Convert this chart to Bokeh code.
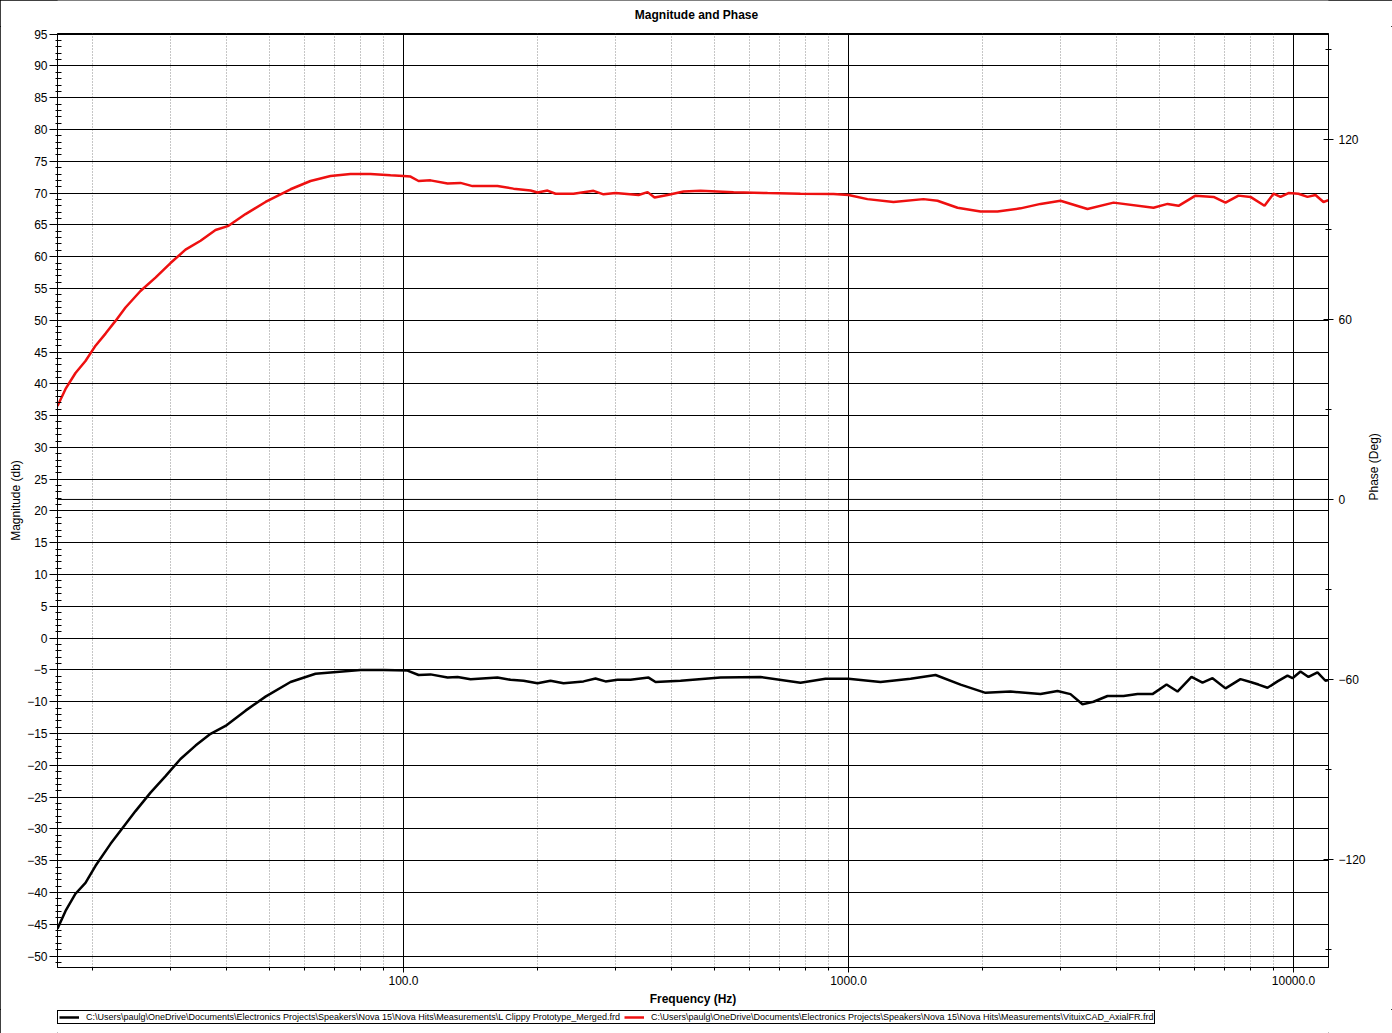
import math
from bokeh.plotting import figure
from bokeh.layouts import column
from bokeh.models import (LinearAxis, Range1d, FixedTicker, SingleIntervalTicker,
                          PrintfTickFormatter, Span, Legend, LegendItem, Label)
from bokeh.embed import file_html
from bokeh.resources import INLINE

# ---------------- data ----------------
freq_red = [16.69, 17.40, 18.32, 19.29, 20.32, 21.40, 22.53, 23.73, 25.64, 27.71,
            29.95, 32.37, 34.99, 37.81, 40.44, 44.16, 48.97, 55.73, 61.80, 68.54,
            76.0, 84.29, 93.5, 100.0, 103.7, 108.1, 115.0, 125.6, 134.3, 142.9,
            162.6, 176.7, 193.0, 200.1, 210.7, 219.6, 241.0, 267.3, 281.5, 299.5,
            337.5, 353.6, 366.6, 392.1, 425.9, 465.1, 551.6, 657.7, 780.0, 925.3,
            1000, 1103, 1262, 1474, 1585, 1758, 1980, 2162, 2436, 2701,
            2995, 3444, 3941, 4846, 5212, 5516, 6022, 6612, 7035, 7523,
            8004, 8607, 9017, 9350, 9745, 10262, 10752, 11205, 11679, 11986]
mag_red = [36.5, 39.2, 41.7, 43.6, 46.0, 47.9, 49.9, 52.0, 54.6, 56.7,
           59.0, 61.1, 62.5, 64.2, 64.85, 66.7, 68.6, 70.6, 71.9, 72.7,
           73.0, 73.0, 72.8, 72.7, 72.6, 71.9, 72.0, 71.5, 71.6, 71.1,
           71.1, 70.7, 70.4, 70.1, 70.4, 69.9, 69.9, 70.35, 69.8, 70.0,
           69.7, 70.15, 69.3, 69.7, 70.25, 70.35, 70.15, 70.0, 69.9, 69.85,
           69.7, 69.05, 68.6, 69.05, 68.8, 67.7, 67.1, 67.1, 67.6, 68.3,
           68.8, 67.5, 68.5, 67.7, 68.3, 68.0, 69.6, 69.4, 68.5, 69.6,
           69.4, 68.0, 69.9, 69.4, 70.0, 69.9, 69.4, 69.7, 68.6, 68.9]

freq_black = [16.69, 17.40, 18.32, 19.29, 20.32, 21.96, 23.12, 24.99, 27.01, 29.19,
              31.54, 34.09, 36.85, 39.81, 44.16, 48.97, 55.73, 63.42, 68.54, 80.05,
              90.17, 102.1, 108.1, 115.0, 125.6, 132.3, 141.5, 162.6, 174.0, 186.1,
              200.1, 214.0, 228.9, 253.8, 270.1, 284.4, 302.6, 323.7, 355.4, 368.5,
              419.4, 515.8, 634.3, 780.0, 887.7, 1000, 1180, 1379, 1569, 1786,
              2032, 2313, 2701, 2949, 3154, 3356, 3553, 3820, 4150, 4462,
              4821, 5185, 5487, 5899, 6245, 6578, 7035, 7601, 8004, 8344,
              8742, 9206, 9694, 9948, 10369, 10807, 11322, 11801, 11986]
mag_black = [-45.7, -42.9, -40.2, -38.5, -35.8, -32.35, -30.3, -27.2, -24.3, -21.7,
             -19.0, -16.9, -15.05, -13.8, -11.4, -9.2, -6.9, -5.6, -5.4, -5.0,
             -5.0, -5.1, -5.8, -5.7, -6.2, -6.1, -6.45, -6.2, -6.55, -6.7,
             -7.1, -6.7, -7.1, -6.8, -6.35, -6.8, -6.55, -6.55, -6.2, -6.9,
             -6.7, -6.2, -6.1, -7.0, -6.4, -6.4, -6.9, -6.4, -5.8, -7.3,
             -8.6, -8.4, -8.8, -8.3, -8.8, -10.4, -10.0, -9.1, -9.1, -8.8,
             -8.8, -7.3, -8.4, -6.1, -7.0, -6.3, -7.9, -6.45, -6.9, -7.3,
             -7.8, -6.8, -5.9, -6.3, -5.25, -6.1, -5.4, -6.7, -6.6]

x_major_ticks = [100, 1000, 10000]
x_minor_ticks = [20, 30, 40, 50, 60, 70, 80, 90,
                 200, 300, 400, 500, 600, 700, 800, 900,
                 2000, 3000, 4000, 5000, 6000, 7000, 8000, 9000]
phase_ticks = [-120, -60, 0, 60, 120]
phase_minor_ticks = [-150, -90, -30, 30, 90, 150]

title_text = "Magnitude and Phase"
label_black = ("C:\\Users\\paulg\\OneDrive\\Documents\\Electronics Projects\\Speakers\\"
               "Nova 15\\Nova Hits\\Measurements\\L Clippy Prototype_Merged.frd")
label_red = ("C:\\Users\\paulg\\OneDrive\\Documents\\Electronics Projects\\Speakers\\"
             "Nova 15\\Nova Hits\\Measurements\\VituixCAD_AxialFR.frd")

FONT = "Liberation Sans"
RED = "#ee1010"
W = 1392
LEFT = 57     # frame offset shared by the stacked strips
RIGHT = 64


def bare_figure(height):
    f = figure(width=W, height=height, x_range=Range1d(0, 1), y_range=Range1d(0, 1),
               x_axis_location=None, y_axis_location=None,
               output_backend="svg", toolbar_location=None,
               min_border_left=LEFT, min_border_right=RIGHT,
               min_border_top=0, min_border_bottom=0)
    f.outline_line_color = None
    f.background_fill_color = "white"
    f.border_fill_color = "white"
    f.xgrid.visible = False
    f.ygrid.visible = False
    return f


# ---------------- title strip ----------------
t = bare_figure(26)
t.add_layout(Label(x=W / 2 - LEFT, y=12, x_units="screen", y_units="screen", text=title_text,
                   text_align="center", text_baseline="middle", text_font=FONT,
                   text_font_size="12px", text_font_style="bold", text_color="black"))

# ---------------- main plot ----------------
p = figure(width=W, height=983, x_axis_type="log",
           x_range=Range1d(16.69, 11986), y_range=Range1d(-51.8, 95.1),
           output_backend="svg", toolbar_location=None,
           min_border_left=LEFT, min_border_right=RIGHT, min_border_top=7, min_border_bottom=42)
p.background_fill_color = "white"
p.border_fill_color = "white"
p.outline_line_color = "black"
p.outline_line_alpha = 1

p.extra_y_ranges = {"phase": Range1d(-156.0, 155.3)}

# bottom axis
xa = p.xaxis[0]
xa.ticker = FixedTicker(ticks=x_major_ticks, minor_ticks=x_minor_ticks)
xa.formatter = PrintfTickFormatter(format="%.1f")
xa.axis_label = "Frequency (Hz)"
xa.axis_label_text_font = FONT
xa.axis_label_text_font_size = "12px"
xa.axis_label_text_font_style = "bold"
xa.axis_label_text_color = "black"
xa.axis_label_standoff = 4
xa.major_label_text_font = FONT
xa.major_label_text_font_size = "12px"
xa.major_label_text_color = "black"
xa.major_label_standoff = 3
xa.major_tick_in = 0
xa.major_tick_out = 5
xa.minor_tick_in = 0
xa.minor_tick_out = 3
xa.axis_line_color = "black"
xa.major_tick_line_color = "black"
xa.minor_tick_line_color = "black"

# left axis
ya = p.yaxis[0]
ya.ticker = SingleIntervalTicker(interval=5, num_minor_ticks=5)
ya.axis_label = "Magnitude (db)"
ya.axis_label_text_font = FONT
ya.axis_label_text_font_size = "12px"
ya.axis_label_text_font_style = "normal"
ya.axis_label_text_color = "black"
ya.axis_label_standoff = 1
ya.major_label_text_font = FONT
ya.major_label_text_font_size = "12px"
ya.major_label_text_color = "black"
ya.major_label_standoff = 2
ya.major_tick_in = 0
ya.major_tick_out = 8
ya.minor_tick_in = 4
ya.minor_tick_out = 2
ya.axis_line_color = "black"
ya.major_tick_line_color = "black"
ya.minor_tick_line_color = "black"

# right axis (phase)
ra = LinearAxis(y_range_name="phase",
                ticker=FixedTicker(ticks=phase_ticks, minor_ticks=phase_minor_ticks),
                axis_label="Phase (Deg)")
if "axis_label_orientation" in ra.properties():
    ra.axis_label_orientation = math.pi / 2
ra.axis_label_text_font = FONT
ra.axis_label_text_font_size = "12px"
ra.axis_label_text_font_style = "normal"
ra.axis_label_text_color = "black"
ra.axis_label_standoff = 5
ra.major_label_text_font = FONT
ra.major_label_text_font_size = "12px"
ra.major_label_text_color = "black"
ra.major_label_standoff = 5
ra.major_tick_in = 5
ra.major_tick_out = 5
ra.minor_tick_in = 3
ra.minor_tick_out = 3
ra.axis_line_color = "black"
ra.major_tick_line_color = "black"
ra.minor_tick_line_color = "black"
p.add_layout(ra, "right")

# grids
p.xgrid.grid_line_color = "black"
p.xgrid.grid_line_alpha = 1
p.xgrid.grid_line_width = 1
p.xgrid.minor_grid_line_color = "#8c8c8c"
p.xgrid.minor_grid_line_dash = "1 2"
p.xgrid.minor_grid_line_width = 1
p.ygrid.grid_line_color = "black"
p.ygrid.grid_line_alpha = 1
p.ygrid.grid_line_width = 1

zero_phase = Span(location=0, dimension="width", y_range_name="phase",
                  line_color="black", line_width=1)
p.add_layout(zero_phase)

# curves
p.line(freq_black, mag_black, line_color="black", line_width=2.5)
p.line(freq_red, mag_red, line_color=RED, line_width=2.5)

# ---------------- legend strip ----------------
nan = float("nan")
lg = bare_figure(24)
k_black = lg.line([nan], [nan], line_color="black", line_width=2.5)
k_red = lg.line([nan], [nan], line_color=RED, line_width=2.5)
legend = Legend(items=[LegendItem(label=label_black, renderers=[k_black]),
                       LegendItem(label=label_red, renderers=[k_red])],
                location=(0, 9), orientation="horizontal",
                border_line_color="black", border_line_width=1, border_line_alpha=1,
                background_fill_color="white", background_fill_alpha=1,
                padding=1, margin=0, spacing=4,
                glyph_width=20, glyph_height=10, label_height=10, label_standoff=7,
                label_text_font=FONT,
                label_text_font_size="9px", label_text_color="black")
lg.add_layout(legend)

page = column(t, p, lg, spacing=0)
page.styles = {"outline": "1px solid black", "outline-offset": "-1px"}

open("out.html", "w").write(file_html(page, INLINE))
